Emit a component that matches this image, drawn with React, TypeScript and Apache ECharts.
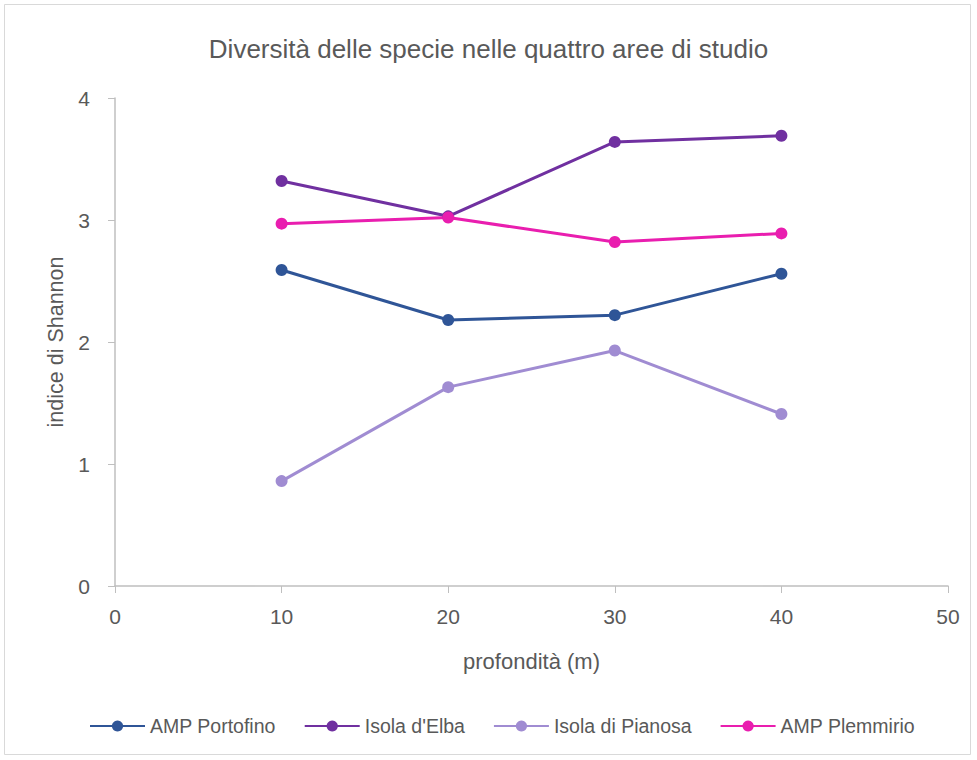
import React, { useEffect, useRef } from "react";
import * as echarts from "echarts";

const depths = [10, 20, 30, 40];
const seriesNames = ["AMP Portofino", "Isola d'Elba", "Isola di Pianosa", "AMP Plemmirio"];
const portofino = [2.59, 2.18, 2.22, 2.56];
const elba = [3.32, 3.03, 3.64, 3.69];
const pianosa = [0.86, 1.63, 1.93, 1.41];
const plemmirio = [2.97, 3.02, 2.82, 2.89];
const colors = ["#2F5597", "#7030A0", "#A08CD2", "#E91EAF"];

const FONT = "'Liberation Sans Narrow', 'Arial Narrow', 'Liberation Sans', Arial, sans-serif";

export default function App() {
  const ref = useRef<HTMLDivElement>(null);
  useEffect(() => {
    document.body.style.margin = "0";
    const chart = echarts.init(ref.current!, null, { renderer: "svg" });
    const values = [portofino, elba, pianosa, plemmirio];
    chart.setOption({
      animation: false,
      backgroundColor: "#ffffff",
      textStyle: { fontFamily: FONT },
      title: {
        text: "Diversità delle specie nelle quattro aree di studio",
        left: "center",
        top: 31,
        textStyle: { fontFamily: FONT, fontSize: 26, fontWeight: "normal", color: "#595959" },
      },
      graphic: [
        {
          type: "rect",
          shape: { x: 4.5, y: 4.5, width: 966, height: 750 },
          style: { fill: "none", stroke: "#d9d9d9", lineWidth: 1 },
          silent: true,
        },
      ],
      legend: {
        bottom: 19,
        left: 84,
        itemWidth: 55,
        itemHeight: 14,
        itemGap: 28,
        textStyle: { fontFamily: FONT, fontSize: 19.5, color: "#595959" },
        data: seriesNames,
      },
      grid: { left: 115, right: 29, top: 98, bottom: 174, containLabel: false },
      xAxis: {
        type: "value",
        min: 0,
        max: 50,
        interval: 10,
        name: "profondità (m)",
        nameLocation: "middle",
        nameGap: 64,
        nameTextStyle: { fontFamily: FONT, fontSize: 22, color: "#595959" },
        axisLine: { show: true, lineStyle: { color: "#bfbfbf", width: 1.5 } },
        axisTick: { show: true, length: 7, lineStyle: { color: "#bfbfbf" } },
        axisLabel: { fontFamily: FONT, fontSize: 21, color: "#595959", margin: 20 },
        splitLine: { show: false },
      },
      yAxis: {
        type: "value",
        min: 0,
        max: 4,
        interval: 1,
        name: "indice di Shannon",
        nameLocation: "middle",
        nameGap: 48,
        nameTextStyle: { fontFamily: FONT, fontSize: 21.5, color: "#595959" },
        axisLine: { show: true, lineStyle: { color: "#bfbfbf", width: 1.5 } },
        axisTick: { show: true, length: 7, lineStyle: { color: "#bfbfbf" } },
        axisLabel: { fontFamily: FONT, fontSize: 21, color: "#595959", margin: 25 },
        splitLine: { show: false },
      },
      series: seriesNames.map((name, i) => ({
        name,
        type: "line",
        data: depths.map((d, j) => [d, values[i][j]]),
        symbol: "circle",
        symbolSize: 12,
        lineStyle: { color: colors[i], width: 3 },
        itemStyle: { color: colors[i] },
        emphasis: { disabled: true },
      })),
    });
    return () => chart.dispose();
  }, []);
  return <div ref={ref} style={{ width: 977, height: 760 }} />;
}
